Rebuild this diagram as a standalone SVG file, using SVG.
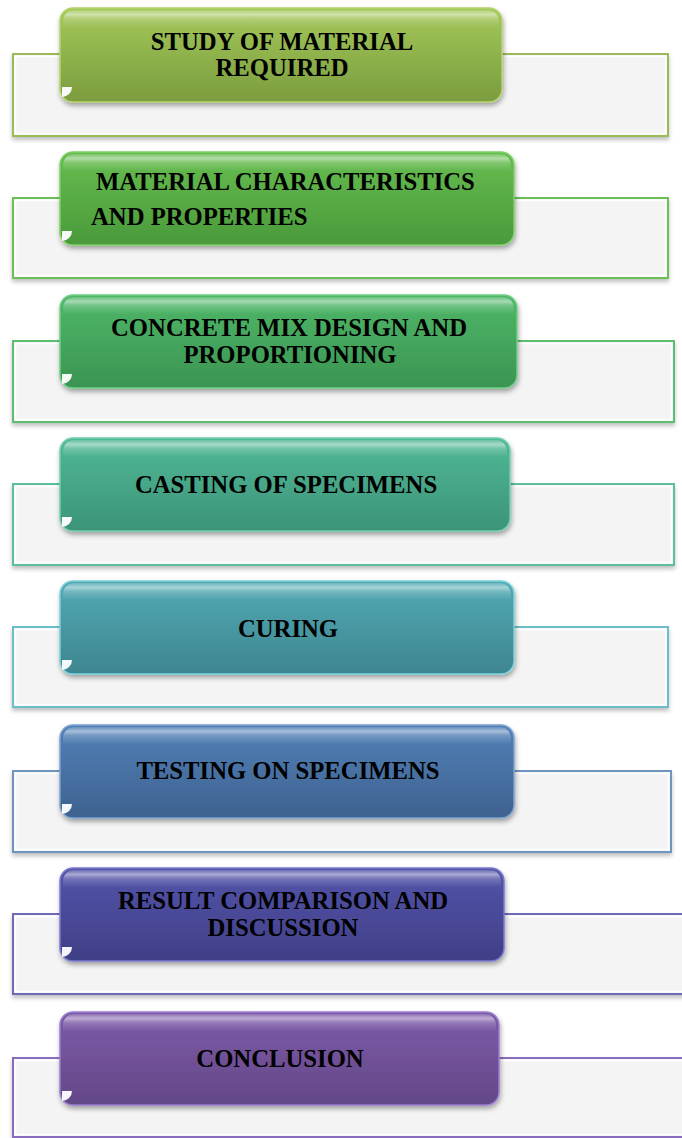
<svg xmlns="http://www.w3.org/2000/svg" width="682" height="1138" viewBox="0 0 682 1138">
  <defs>
    <style>
      .lbl { font-family: "Liberation Serif", "Times New Roman", serif; font-weight: bold; font-size: 24.7px; fill: #000; }
      .mid { text-anchor: middle; }
      .panel { fill: #f4f4f4; stroke-width: 2; }
      .panel-in { fill: none; stroke: #ffffff; stroke-width: 1.5; }
      .gloss { fill: url(#gloss); }
      .glint { fill: #ffffff; opacity: 0.95; }
    </style>
    <filter id="boxShadow" x="-10%" y="-20%" width="120%" height="150%">
      <feDropShadow dx="1" dy="3" stdDeviation="2.5" flood-color="#000" flood-opacity="0.35"/>
    </filter>
    <filter id="panelShadow" x="-5%" y="-10%" width="110%" height="140%">
      <feDropShadow dx="0" dy="3" stdDeviation="2" flood-color="#000" flood-opacity="0.25"/>
    </filter>
    <!-- thin glossy band along the top of each step box -->
    <linearGradient id="gloss" x1="0" y1="0" x2="0" y2="1">
      <stop offset="0" stop-color="#ffffff" stop-opacity="0.15"/>
      <stop offset="0.05" stop-color="#ffffff" stop-opacity="0.5"/>
      <stop offset="0.1" stop-color="#ffffff" stop-opacity="0.2"/>
      <stop offset="0.2" stop-color="#ffffff" stop-opacity="0"/>
    </linearGradient>
    <linearGradient id="g1" x1="0" y1="0" x2="0" y2="1">
      <stop offset="0" stop-color="#a3c85a"/><stop offset="1" stop-color="#7c9c3e"/>
    </linearGradient>
    <linearGradient id="g2" x1="0" y1="0" x2="0" y2="1">
      <stop offset="0" stop-color="#66bd4f"/><stop offset="1" stop-color="#4a9a3b"/>
    </linearGradient>
    <linearGradient id="g3" x1="0" y1="0" x2="0" y2="1">
      <stop offset="0" stop-color="#4fb768"/><stop offset="1" stop-color="#3a9452"/>
    </linearGradient>
    <linearGradient id="g4" x1="0" y1="0" x2="0" y2="1">
      <stop offset="0" stop-color="#50b996"/><stop offset="1" stop-color="#3c9379"/>
    </linearGradient>
    <linearGradient id="g5" x1="0" y1="0" x2="0" y2="1">
      <stop offset="0" stop-color="#52a9b4"/><stop offset="1" stop-color="#3d8690"/>
    </linearGradient>
    <linearGradient id="g6" x1="0" y1="0" x2="0" y2="1">
      <stop offset="0" stop-color="#5180b7"/><stop offset="1" stop-color="#3e6290"/>
    </linearGradient>
    <linearGradient id="g7" x1="0" y1="0" x2="0" y2="1">
      <stop offset="0" stop-color="#5454aa"/><stop offset="1" stop-color="#403f87"/>
    </linearGradient>
    <linearGradient id="g8" x1="0" y1="0" x2="0" y2="1">
      <stop offset="0" stop-color="#7d5aa9"/><stop offset="1" stop-color="#634887"/>
    </linearGradient>
  </defs>

  <rect width="682" height="1138" fill="#ffffff"/>

  <!-- Step 1 -->
  <g id="step1">
    <rect class="panel" x="13" y="54" width="655" height="82" stroke="#9bbb59" filter="url(#panelShadow)"/>
    <rect class="panel-in" x="15.5" y="56.5" width="650" height="77"/>
    <rect x="60" y="8" width="442" height="94" rx="13" fill="url(#g1)" stroke="#b5d46e" stroke-width="1.5" filter="url(#boxShadow)"/>
    <rect class="gloss" x="63" y="10" width="436" height="88" rx="11"/>
    <path class="glint" d="M62 87 h10 a10 10 0 0 1 -10 10 z"/>
    <text class="lbl mid" x="282" y="50">STUDY OF MATERIAL</text>
    <text class="lbl mid" x="282" y="76">REQUIRED</text>
  </g>

  <!-- Step 2 -->
  <g id="step2">
    <rect class="panel" x="13" y="198" width="655" height="80" stroke="#6abf55" filter="url(#panelShadow)"/>
    <rect class="panel-in" x="15.5" y="200.5" width="650" height="75"/>
    <rect x="60" y="152" width="454" height="93" rx="13" fill="url(#g2)" stroke="#7fd066" stroke-width="1.5" filter="url(#boxShadow)"/>
    <rect class="gloss" x="63" y="154" width="448" height="87" rx="11"/>
    <path class="glint" d="M62 231 h10 a10 10 0 0 1 -10 10 z"/>
    <text class="lbl" x="96" y="190">MATERIAL CHARACTERISTICS</text>
    <text class="lbl" x="91" y="225">AND PROPERTIES</text>
  </g>

  <!-- Step 3 -->
  <g id="step3">
    <rect class="panel" x="13" y="341" width="661" height="81" stroke="#5cbf6f" filter="url(#panelShadow)"/>
    <rect class="panel-in" x="15.5" y="343.5" width="656" height="76"/>
    <rect x="60" y="295" width="457" height="93" rx="13" fill="url(#g3)" stroke="#6fcf84" stroke-width="1.5" filter="url(#boxShadow)"/>
    <rect class="gloss" x="63" y="297" width="451" height="87" rx="11"/>
    <path class="glint" d="M62 374 h10 a10 10 0 0 1 -10 10 z"/>
    <text class="lbl mid" x="289" y="336">CONCRETE MIX DESIGN AND</text>
    <text class="lbl mid" x="290" y="363">PROPORTIONING</text>
  </g>

  <!-- Step 4 -->
  <g id="step4">
    <rect class="panel" x="13" y="484" width="661" height="81" stroke="#5dbf9c" filter="url(#panelShadow)"/>
    <rect class="panel-in" x="15.5" y="486.5" width="656" height="76"/>
    <rect x="60" y="438" width="450" height="93" rx="13" fill="url(#g4)" stroke="#72d0ae" stroke-width="1.5" filter="url(#boxShadow)"/>
    <rect class="gloss" x="63" y="440" width="444" height="87" rx="11"/>
    <path class="glint" d="M62 517 h10 a10 10 0 0 1 -10 10 z"/>
    <text class="lbl mid" x="286" y="493">CASTING OF SPECIMENS</text>
  </g>

  <!-- Step 5 -->
  <g id="step5">
    <rect class="panel" x="13" y="627" width="655" height="80" stroke="#6bbfcb" filter="url(#panelShadow)"/>
    <rect class="panel-in" x="15.5" y="629.5" width="650" height="75"/>
    <rect x="60" y="581" width="454" height="93" rx="13" fill="url(#g5)" stroke="#7ad2dc" stroke-width="1.5" filter="url(#boxShadow)"/>
    <rect class="gloss" x="63" y="583" width="448" height="87" rx="11"/>
    <path class="glint" d="M62 660 h10 a10 10 0 0 1 -10 10 z"/>
    <text class="lbl mid" x="288" y="637">CURING</text>
  </g>

  <!-- Step 6 -->
  <g id="step6">
    <rect class="panel" x="13" y="771" width="658" height="81" stroke="#6f94c0" filter="url(#panelShadow)"/>
    <rect class="panel-in" x="15.5" y="773.5" width="653" height="76"/>
    <rect x="60" y="725" width="454" height="93" rx="13" fill="url(#g6)" stroke="#7ea3d0" stroke-width="1.5" filter="url(#boxShadow)"/>
    <rect class="gloss" x="63" y="727" width="448" height="87" rx="11"/>
    <path class="glint" d="M62 804 h10 a10 10 0 0 1 -10 10 z"/>
    <text class="lbl mid" x="288" y="779">TESTING ON SPECIMENS</text>
  </g>

  <!-- Step 7 -->
  <g id="step7">
    <rect class="panel" x="13" y="914" width="680" height="80" stroke="#6e6ab8" filter="url(#panelShadow)"/>
    <rect class="panel-in" x="15.5" y="916.5" width="675" height="75"/>
    <rect x="60" y="868" width="444" height="93" rx="13" fill="url(#g7)" stroke="#7c7ad0" stroke-width="1.5" filter="url(#boxShadow)"/>
    <rect class="gloss" x="63" y="870" width="438" height="87" rx="11"/>
    <path class="glint" d="M62 947 h10 a10 10 0 0 1 -10 10 z"/>
    <text class="lbl mid" x="283" y="909">RESULT COMPARISON AND</text>
    <text class="lbl mid" x="283" y="936">DISCUSSION</text>
  </g>

  <!-- Step 8 -->
  <g id="step8">
    <rect class="panel" x="13" y="1058" width="680" height="79" stroke="#8a6cbf" filter="url(#panelShadow)"/>
    <rect class="panel-in" x="15.5" y="1060.5" width="675" height="74"/>
    <rect x="60" y="1012" width="439" height="93" rx="13" fill="url(#g8)" stroke="#9a7ed0" stroke-width="1.5" filter="url(#boxShadow)"/>
    <rect class="gloss" x="63" y="1014" width="433" height="87" rx="11"/>
    <path class="glint" d="M62 1091 h10 a10 10 0 0 1 -10 10 z"/>
    <text class="lbl mid" x="280" y="1067">CONCLUSION</text>
  </g>

  <!-- no connectors are drawn between the steps -->
  <g id="connectors"/>
</svg>
